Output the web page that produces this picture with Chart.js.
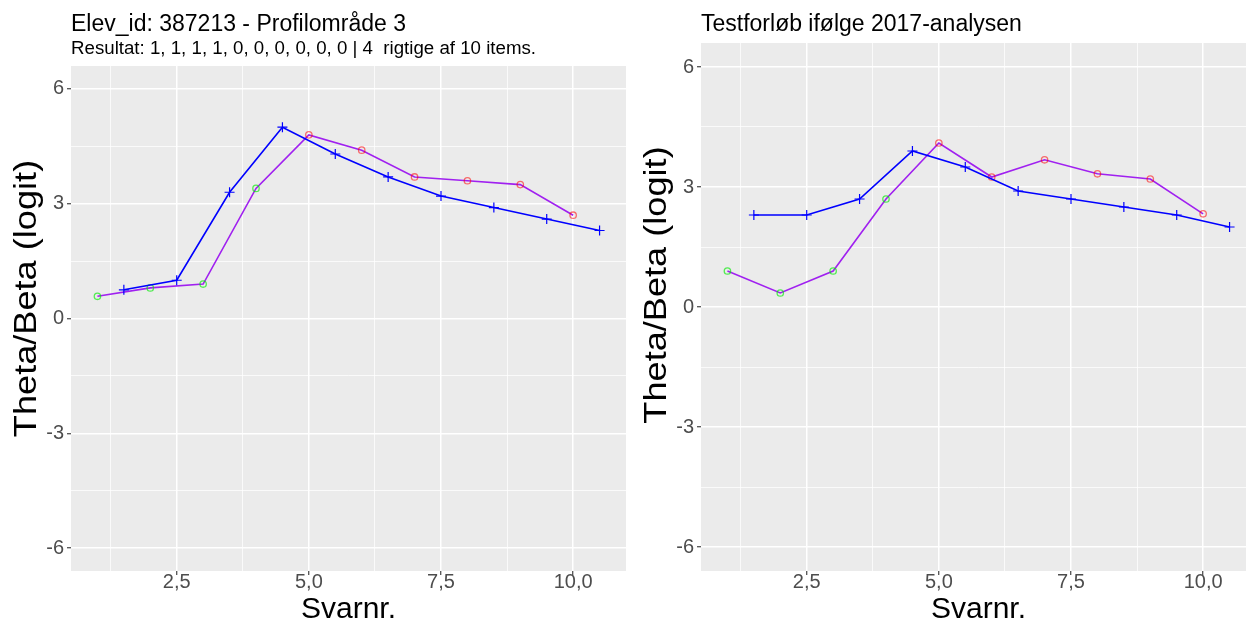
<!DOCTYPE html>
<html><head><meta charset="utf-8">
<script src="https://cdn.jsdelivr.net/npm/chart.js@4.4.1/dist/chart.umd.min.js"></script>
<style>
html,body{margin:0;padding:0;background:#fff;width:1246px;height:625px;overflow:hidden;position:relative}
canvas{position:absolute;top:0}
#c1{left:0}
#c2{left:623px}
</style></head><body>
<canvas id="c1" width="640" height="625"></canvas>
<canvas id="c2" width="650" height="625"></canvas>
<script>
// ---- data ----
const items = [1, 2, 3, 4, 5, 6, 7, 8, 9, 10];
const thetaSteps = [1.5, 2.5, 3.5, 4.5, 5.5, 6.5, 7.5, 8.5, 9.5, 10.5];
const leftBeta = [0.58, 0.8, 0.9, 3.4, 4.8, 4.4, 3.7, 3.6, 3.5, 2.7];
const leftTheta = [0.75, 1.0, 3.3, 5.0, 4.3, 3.7, 3.2, 2.9, 2.6, 2.3];
const leftCorrect = [1, 1, 1, 1, 0, 0, 0, 0, 0, 0];
const rightBeta = [0.9, 0.35, 0.9, 2.7, 4.1, 3.25, 3.68, 3.33, 3.2, 2.33];
const rightTheta = [2.3, 2.3, 2.7, 3.9, 3.5, 2.9, 2.7, 2.5, 2.3, 2.0];
const rightCorrect = [1, 1, 1, 1, 0, 0, 0, 0, 0, 0];
const xMajorTicks = [2.5, 5, 7.5, 10];
const xMinorTicks = [1.25, 3.75, 6.25, 8.75];
const yMajorTicks = [-6, -3, 0, 3, 6];
const yMinorTicks = [-4.5, -1.5, 1.5, 4.5];
const leftTitle = 'Elev_id: 387213 - Profilområde 3';
const leftSubtitle = 'Resultat: 1, 1, 1, 1, 0, 0, 0, 0, 0, 0 | 4  rigtige af 10 items.';
const rightTitle = 'Testforløb ifølge 2017-analysen';
const xTitle = 'Svarnr.';
const yTitle = 'Theta/Beta (logit)';

const FONT = '"Liberation Sans", Arial, Helvetica, sans-serif';

const panelBg = {
  id: 'panelBg',
  beforeDraw(chart) {
    const {ctx, chartArea: a} = chart;
    ctx.save();
    ctx.fillStyle = '#EBEBEB';
    ctx.fillRect(a.left, a.top, a.right - a.left, a.bottom - a.top);
    ctx.restore();
  }
};

// vertical axis title, drawn as text next to the y axis
const yAxisTitle = {
  id: 'yAxisTitle',
  afterDraw(chart, args, opts) {
    const {ctx, chartArea: a} = chart;
    ctx.save();
    ctx.translate(opts.x, (a.top + a.bottom) / 2 + opts.dy);
    ctx.rotate(-Math.PI / 2);
    ctx.scale(opts.stretch, 1);
    ctx.font = 'normal ' + opts.size + 'px ' + FONT;
    ctx.fillStyle = '#000000';
    ctx.textAlign = 'center';
    ctx.textBaseline = 'middle';
    ctx.fillText(opts.text, 0, 0);
    ctx.restore();
  }
};

function isIn(arr, v) { return arr.some(t => Math.abs(t - v) < 1e-9); }

function makeChart(canvasId, cfg) {
  const grid = (majors) => ({
    color: '#FFFFFF',
    lineWidth: c => (c.tick && isIn(majors, c.tick.value)) ? 1.5 : 0.75,
    tickColor: c => (c.tick && isIn(majors, c.tick.value)) ? '#333333' : 'rgba(0,0,0,0)',
    tickLength: 4,
    tickWidth: 1.1,
    drawOnChartArea: true
  });
  return new Chart(document.getElementById(canvasId), {
    type: 'scatter',
    data: {
      datasets: [
        {
          label: 'theta',
          data: thetaSteps.map((x, i) => ({x: x, y: cfg.theta[i]})),
          showLine: true,
          borderColor: '#0000FF',
          borderWidth: 1.6,
          pointStyle: 'cross',
          pointRadius: 5,
          pointBorderWidth: 1.2,
          pointBorderColor: '#0000FF',
          pointBackgroundColor: '#0000FF'
        },
        {
          label: 'beta',
          data: items.map((x, i) => ({x: x, y: cfg.beta[i]})),
          showLine: true,
          borderColor: '#A020F0',
          borderWidth: 1.6,
          pointStyle: 'circle',
          pointRadius: 3.2,
          pointBorderWidth: 1.3,
          pointBackgroundColor: 'rgba(0,0,0,0)',
          pointBorderColor: c => cfg.correct[c.dataIndex] ? 'rgba(0,235,0,0.65)' : 'rgba(255,0,0,0.55)'
        }
      ]
    },
    options: {
      responsive: false,
      animation: false,
      devicePixelRatio: 1,
      events: [],
      layout: {padding: {left: 0, right: cfg.padRight, top: 0, bottom: 0}},
      plugins: {
        legend: {display: false},
        tooltip: {enabled: false},
        title: {
          display: true, text: cfg.title, align: 'start', fullSize: false, color: '#000000',
          font: {family: FONT, size: 23, weight: 'normal', lineHeight: 1},
          padding: {top: 13.5, bottom: cfg.titlePadBottom}
        },
        subtitle: {
          display: !!cfg.subtitle, text: cfg.subtitle || '', align: 'start', fullSize: false, color: '#000000',
          font: {family: FONT, size: 18.7, weight: 'normal', lineHeight: 1},
          padding: {top: 2.75, bottom: 8.05}
        },
        yAxisTitle: {text: yTitle, x: cfg.yTitleX, dy: cfg.yTitleDy, size: 32, stretch: 1.13}
      },
      scales: {
        x: {
          type: 'linear', min: 0.5, max: 11.0,
          afterBuildTicks: s => { s.ticks = [...xMinorTicks, ...xMajorTicks].sort((a, b) => a - b).map(v => ({value: v})); },
          afterFit: s => { s.height = 54; },
          border: {display: false},
          grid: grid(xMajorTicks),
          ticks: {
            color: '#4D4D4D', padding: -3, autoSkip: false, maxRotation: 0, minRotation: 0,
            font: {family: FONT, size: 20, lineHeight: 1},
            callback: v => isIn(xMajorTicks, v) ? v.toFixed(1).replace('.', ',') : ''
          },
          title: {display: true, text: xTitle, color: '#000000',
            font: {family: FONT, size: 30, lineHeight: 1}, padding: {top: 0, bottom: 0}}
        },
        y: {
          type: 'linear', min: -6.6, max: 6.6,
          afterBuildTicks: s => { s.ticks = [...yMinorTicks, ...yMajorTicks].sort((a, b) => a - b).map(v => ({value: v})); },
          afterFit: s => { s.width = cfg.yWidth; },
          border: {display: false},
          grid: grid(yMajorTicks),
          ticks: {
            color: '#4D4D4D', padding: 3, autoSkip: false,
            font: {family: FONT, size: 20, lineHeight: 1},
            callback: v => isIn(yMajorTicks, v) ? String(v) : ''
          },
          title: {display: false}
        }
      }
    },
    plugins: [panelBg, yAxisTitle]
  });
}

makeChart('c1', {
  beta: leftBeta, theta: leftTheta, correct: leftCorrect,
  title: leftTitle, subtitle: leftSubtitle, titlePadBottom: 0,
  padRight: 14, yWidth: 71, yTitleX: 27, yTitleDy: -20
});
makeChart('c2', {
  beta: rightBeta, theta: rightTheta, correct: rightCorrect,
  title: rightTitle, subtitle: null, titlePadBottom: 6.5,
  padRight: 17, yWidth: 78, yTitleX: 34, yTitleDy: -22
});
</script>
</body></html>
